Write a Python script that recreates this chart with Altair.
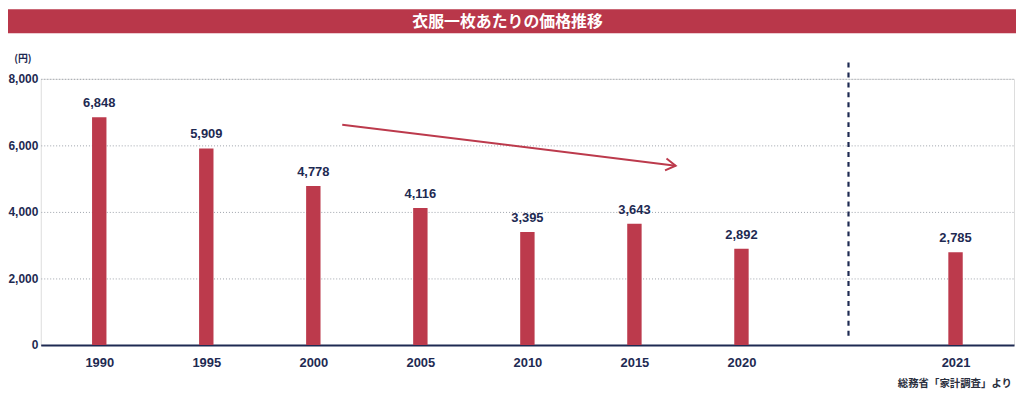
import altair as alt
import pandas as pd

# ---- data ----
slots = ["1990", "1995", "2000", "2005", "2010", "2015", "2020", "", "2021"]
years = ["1990", "1995", "2000", "2005", "2010", "2015", "2020", "2021"]
prices = [6848, 5909, 4778, 4116, 3395, 3643, 2892, 2785]
y_ticks = [0, 1000, 2000, 3000, 4000, 5000, 6000, 7000, 8000]
divider_slot = ""
divider_y = [280, 8600]
arrow_x = [2.27, 5.385]
arrow_y = [6620, 5390]
title_text = "衣服一枚あたりの価格推移"
unit_text = "(円)"
source_text = "総務省「家計調査」より"

RED = "#BC3A4C"
NAVY = "#1E2A52"
NUM_FONT = "Liberation Sans Narrow, Liberation Sans, Arial, sans-serif"
JP_FONT = "Noto Sans CJK JP, sans-serif"

df = pd.DataFrame({
    "year": years,
    "price": prices,
    "idx": [slots.index(y) for y in years],
})
div_df = pd.DataFrame({"idx": [slots.index(divider_slot)], "y0": [divider_y[0]], "y1": [divider_y[1]]})
arrow_df = pd.DataFrame({"x0": [arrow_x[0]], "x1": [arrow_x[1]], "y0": [arrow_y[0]], "y1": [arrow_y[1]]})
one = pd.DataFrame({"k": [0]})

label_array = "[" + ",".join("'" + s + "'" for s in slots) + "]"
x_vals = [i for i, s in enumerate(slots) if s != ""]

x_scale = alt.Scale(domain=[-0.5, len(slots) - 0.5], nice=False, zero=False)
y_scale = alt.Scale(domain=[0, 8000], nice=False)

x_axis = alt.Axis(
    values=x_vals,
    labelExpr=label_array + "[datum.value]",
    title=None, grid=False, ticks=False,
    domainColor=NAVY, domainWidth=2,
    labelFont=NUM_FONT, labelFontSize=13, labelFontWeight="bold",
    labelColor=NAVY, labelPadding=12,
)
y_axis = alt.Axis(
    values=y_ticks,
    labelExpr="datum.value % 2000 == 0 ? format(datum.value, ',') : ''",
    title=None, domain=False, ticks=False,
    grid=True, gridColor="#9ea3ab", gridDash=[1, 2], gridWidth=1,
    labelFont=NUM_FONT, labelFontSize=12, labelFontWeight="bold",
    labelColor=NAVY, labelPadding=3,
)

bars = alt.Chart(df).mark_bar(size=14.5, color=RED).encode(
    x=alt.X("idx:Q", scale=x_scale, axis=x_axis),
    y=alt.Y("price:Q", scale=y_scale, axis=y_axis),
)

values = alt.Chart(df).mark_text(
    dy=-10, baseline="alphabetic", font=NUM_FONT, fontSize=13,
    fontWeight="bold", color=NAVY,
).encode(
    x=alt.X("idx:Q", scale=x_scale),
    y=alt.Y("price:Q", scale=y_scale),
    text=alt.Text("price:Q", format=","),
)

divider = alt.Chart(div_df).mark_rule(
    color=NAVY, strokeWidth=2.2, strokeDash=[5, 5]
).encode(
    x=alt.X("idx:Q", scale=x_scale),
    y=alt.Y("y0:Q", scale=y_scale),
    y2="y1:Q",
)

arrow_line = alt.Chart(arrow_df).mark_rule(color=RED, strokeWidth=2).encode(
    x=alt.X("x0:Q", scale=x_scale),
    x2="x1:Q",
    y=alt.Y("y0:Q", scale=y_scale),
    y2="y1:Q",
)

arrow_head = alt.Chart(arrow_df).mark_point(
    shape="M-1,-0.6L0,0L-1,0.6", filled=False, color=RED,
    strokeWidth=2, size=400, angle=7, opacity=1,
).encode(
    x=alt.X("x1:Q", scale=x_scale),
    y=alt.Y("y1:Q", scale=y_scale),
)

title_bar = alt.Chart(one).mark_rect(color="#B9374A").encode(
    x=alt.value(-41), x2=alt.value(990),
    y=alt.value(-70), y2=alt.value(-46),
)
title = alt.Chart(one).mark_text(
    font=JP_FONT, fontSize=16, fontWeight="bold", color="white",
    align="center", baseline="middle",
).encode(x=alt.value(470), y=alt.value(-57.5), text=alt.value(title_text))

unit = alt.Chart(one).mark_text(
    font=JP_FONT, fontSize=10, fontWeight="bold", color=NAVY,
    align="center", baseline="middle",
).encode(x=alt.value(-18), y=alt.value(-20), text=alt.value(unit_text))

source = alt.Chart(one).mark_text(
    font=JP_FONT, fontSize=10.5, fontWeight="bold", color="#2a2f3d",
    align="right", baseline="middle",
).encode(x=alt.value(978), y=alt.value(307.5), text=alt.value(source_text))

chart = alt.layer(
    bars, values, divider, arrow_line, arrow_head,
    title_bar, title, unit, source,
).properties(
    width=980, height=268,
    padding={"left": 33, "top": 70, "right": 2, "bottom": 45},
    autosize=alt.AutoSizeParams(type="none"),
).configure_view(stroke=None).configure(background="white")

chart.save("out.html", embed_options={"renderer": "svg", "actions": False})
